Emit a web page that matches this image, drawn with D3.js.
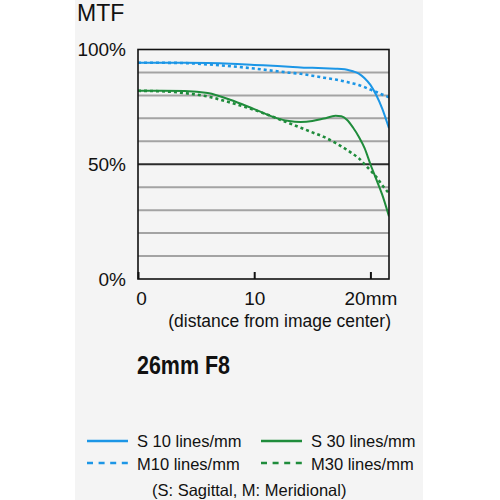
<!DOCTYPE html>
<html>
  <head>
    <meta charset="utf-8">
    <title>MTF 26mm F8</title>
    <style>
      body {
        margin: 0px;
        overflow: hidden;
        background: white;
      }

      text {
        font-family: "Liberation Sans", Arial, sans-serif;
        fill: #111;
      }

      .grid-row {
        stroke: #a3a3a3;
        stroke-width: 2px;
      }

      .grid-row.mid {
        stroke: #2b2b2b;
      }

      .frame {
        fill: none;
        stroke: #111;
        stroke-width: 1.6px;
      }

      .curve {
        fill: none;
        stroke-width: 2px;
      }

      .curve.dotted {
        stroke-width: 2.6px;
        stroke-dasharray: 3, 3;
      }

      .axis .domain {
        display: none;
      }
    </style>
  </head>
  <body>
    <svg id="container" width="500" height="500"></svg>
    <script src="https://cdn.jsdelivr.net/npm/d3@7"></script>

    <script type="text/javascript">
      // distance from image center (mm) shared by all four curves
      var distance = [0, 2, 4, 6, 8, 10, 12, 13, 14, 15, 16, 17, 17.5, 18, 18.5, 19, 19.5, 20, 20.5, 21, 21.6];

      // MTF values in %
      var s10 = [94.2, 94.2, 94.2, 94.1, 93.8, 93.3, 92.8, 92.5, 92.2, 92.0, 91.8, 91.6, 91.5, 91.2, 90.5, 89.5, 87.5, 84.6, 80.2, 74.5, 65.7];
      var m10 = [94.2, 94.2, 94.1, 93.5, 92.7, 91.7, 90.5, 89.9, 89.4, 88.6, 87.7, 86.9, 86.4, 85.8, 85.2, 84.5, 83.6, 82.5, 81.5, 80.4, 79.2];
      var s30 = [82, 82, 81.9, 81, 78, 74, 70, 68.8, 68.4, 68.8, 69.9, 71.1, 70.9, 69.3, 66, 62, 57, 50, 43.5, 37, 27.3];
      var m30 = [82, 81.8, 81, 79.5, 76.8, 73.7, 69.9, 67.9, 65.9, 63.9, 61.9, 59.3, 57.8, 56.2, 54.5, 52.6, 50, 47.3, 44.5, 41, 37.3];

      var xTicks = [0, 10, 20];
      var yLabelTicks = [0, 50, 100];
      var gridValues = [10, 20, 30, 40, 50, 60, 70, 80, 90];

      var seriesNames = ['S 10 lines/mm', 'M10 lines/mm', 'S 30 lines/mm', 'M30 lines/mm'];
      var seriesValues = [s10, m10, s30, m30];
      var seriesColors = ['#1c96e6', '#1c96e6', '#1f8c3b', '#1f8c3b'];
      var seriesDotted = [false, true, false, true];

      var container = d3.select('#container');

      var plot = { left: 138, right: 389, top: 49.5, bottom: 279 };

      var x = d3.scaleLinear().domain([0, 21.6]).range([plot.left, plot.right]);
      var y = d3.scaleLinear().domain([0, 100]).range([plot.bottom, plot.top]);

      /*
        Background panel
      */
      container.append('rect')
        .attr('x', 75)
        .attr('y', 0)
        .attr('width', 348)
        .attr('height', 500)
        .attr('fill', '#f4f4f4');

      container.append('text')
        .attr('x', 77)
        .attr('y', 21)
        .style('font-size', '23px')
        .text('MTF');

      /*
        Grid
      */
      container.append('g')
        .selectAll('line')
        .data(gridValues)
        .enter().append('line')
        .attr('class', function (d) { return d === 50 ? 'grid-row mid' : 'grid-row'; })
        .attr('x1', plot.left)
        .attr('x2', plot.right)
        .attr('y1', function (d) { return y(d); })
        .attr('y2', function (d) { return y(d); });

      // y labels
      var yAxis = container.append('g')
        .attr('class', 'axis')
        .attr('transform', 'translate(' + plot.left + ',0)')
        .call(d3.axisLeft(y).tickValues(yLabelTicks).tickSize(0).tickPadding(12)
          .tickFormat(function (d) { return d + '%'; }));
      yAxis.selectAll('text')
        .style('font-size', '19px')
        .style('font-family', '"Liberation Sans", Arial, sans-serif')
        .attr('fill', '#111');

      // x axis, ticks point up into the plot
      var xAxis = container.append('g')
        .attr('class', 'axis')
        .attr('transform', 'translate(0,' + plot.bottom + ')')
        .call(d3.axisBottom(x).tickValues(xTicks).tickSizeInner(-7).tickSizeOuter(0).tickPadding(12.5)
          .tickFormat(function (d) { return d === 20 ? '20mm' : String(d); }));
      xAxis.selectAll('line')
        .attr('stroke', '#111')
        .attr('stroke-width', 2);
      xAxis.selectAll('text')
        .style('font-size', '19px')
        .style('font-family', '"Liberation Sans", Arial, sans-serif')
        .attr('fill', '#111')
        .attr('dx', function (d) { return d === 0 ? 3 : 0; });

      container.append('text')
        .attr('x', 391)
        .attr('y', 327)
        .attr('text-anchor', 'end')
        .style('font-size', '17.5px')
        .text('(distance from image center)');

      /*
        Curves
      */
      container.append('clipPath')
        .attr('id', 'plot-clip')
        .append('rect')
        .attr('x', plot.left)
        .attr('y', plot.top)
        .attr('width', plot.right - plot.left)
        .attr('height', plot.bottom - plot.top);

      var line = d3.line()
        .x(function (d) { return x(d[0]); })
        .y(function (d) { return y(d[1]); })
        .curve(d3.curveMonotoneX);

      container.append('g')
        .attr('clip-path', 'url(#plot-clip)')
        .selectAll('path')
        .data(seriesValues)
        .enter().append('path')
        .attr('class', function (d, i) { return seriesDotted[i] ? 'curve dotted' : 'curve'; })
        .attr('stroke', function (d, i) { return seriesColors[i]; })
        .attr('d', function (vals) { return line(d3.zip(distance, vals)); });

      // frame
      container.append('rect')
        .attr('class', 'frame')
        .attr('x', plot.left)
        .attr('y', plot.top)
        .attr('width', plot.right - plot.left)
        .attr('height', plot.bottom - plot.top);

      /*
        Title (condensed bold)
      */
      container.append('text')
        .attr('x', 137)
        .attr('y', 374)
        .attr('textLength', 93)
        .attr('lengthAdjust', 'spacingAndGlyphs')
        .style('font-family', '"Liberation Sans", Arial, sans-serif')
        .style('font-weight', 'bold')
        .style('font-size', '26px')
        .text('26mm F8');

      /*
        Legend
      */
      var legendPos = [
        { lx: 87, tx: 137, ly: 441, ty: 447 },
        { lx: 87, tx: 137, ly: 463, ty: 469.5 },
        { lx: 261, tx: 311, ly: 441, ty: 447 },
        { lx: 261, tx: 311, ly: 463, ty: 469.5 }
      ];

      var legend = container.append('g')
        .selectAll('g')
        .data(seriesNames)
        .enter().append('g');

      legend.append('line')
        .attr('x1', function (d, i) { return legendPos[i].lx; })
        .attr('x2', function (d, i) { return legendPos[i].lx + 41; })
        .attr('y1', function (d, i) { return legendPos[i].ly; })
        .attr('y2', function (d, i) { return legendPos[i].ly; })
        .attr('stroke', function (d, i) { return seriesColors[i]; })
        .attr('stroke-width', 2.4)
        .attr('stroke-dasharray', function (d, i) { return seriesDotted[i] ? '6,5.6' : null; });

      legend.append('text')
        .attr('x', function (d, i) { return legendPos[i].tx; })
        .attr('y', function (d, i) { return legendPos[i].ty; })
        .style('font-size', '16.5px')
        .text(function (d) { return d; });

      container.append('text')
        .attr('x', 152)
        .attr('y', 496)
        .style('font-size', '16.5px')
        .text('(S: Sagittal, M: Meridional)');
    </script>
  </body>
</html>
